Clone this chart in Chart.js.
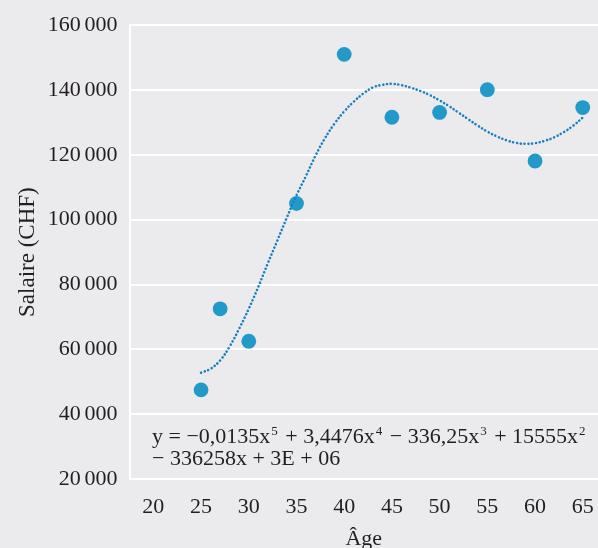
<!DOCTYPE html>
<html>
<head>
<meta charset="utf-8">
<script src="https://cdn.jsdelivr.net/npm/chart.js@4.4.1/dist/chart.umd.min.js"></script>
<style>
  html, body { margin: 0; padding: 0; background: #ebebed; }
  #wrap { width: 598px; height: 548px; }
</style>
</head>
<body>
<div id="wrap"><canvas id="salaryChart" width="598" height="548"></canvas></div>
<script>
// salaire par âge (points mesurés)
const ages = [25, 27, 30, 35, 40, 45, 50, 55, 60, 65];
const salaries = [47500, 72500, 62500, 105000, 151000, 131600, 133100, 140100, 118100, 134600];

// courbe de tendance polynomiale (ordre 5), lue point par point
const trendAges = [25, 26, 27, 28, 29, 30, 31, 32, 33, 34, 35, 36, 37, 38, 39, 40, 41, 42, 43, 44, 45,
  46, 47, 48, 49, 50, 51, 52, 53, 54, 55, 56, 57, 58, 59, 60, 61, 62, 63, 64, 65];
const trendValues = [52800, 54000, 56600, 60900, 66400, 72500, 79300, 86600, 93600, 100700, 107500,
  113500, 119800, 125200, 129700, 133400, 136400, 138900, 140800, 141600, 141900,
  141500, 140700, 139700, 138400, 136800, 135000, 133000, 131000, 129000, 127200,
  125700, 124500, 123700, 123400, 123600, 124300, 125400, 127000, 129000, 131500];

const ageTicks = [20, 25, 30, 35, 40, 45, 50, 55, 60, 65];

const eqLine1 = [['y = −0,0135x', false], ['5', true], [' + 3,4476x', false], ['4', true],
  [' − 336,25x', false], ['3', true], [' + 15555x', false], ['2', true]];
const eqLine2 = [['− 336258x + 3E + 06', false]];

const textColor = '#231f20';
const serif = "'Liberation Serif', 'DejaVu Serif', serif";

function fmtThousands(v) {
  return String(v).replace(/\B(?=(\d{3})+(?!\d))/g, '\u200A\u200A');
}

// équation de la tendance, écrite dans la zone du graphique
const equationPlugin = {
  id: 'equation',
  afterDatasetsDraw(chart) {
    const ctx = chart.ctx;
    const x0 = chart.chartArea.left + 22.5;
    const lines = [[eqLine1, 442.5], [eqLine2, 465]];
    ctx.save();
    ctx.fillStyle = textColor;
    ctx.textBaseline = 'alphabetic';
    ctx.textAlign = 'left';
    lines.forEach(([parts, y]) => {
      let x = x0;
      parts.forEach(([txt, sup]) => {
        ctx.font = (sup ? '13px ' : '22px ') + serif;
        ctx.fillText(txt, sup ? x + 1 : x, sup ? y - 7.5 : y);
        x += ctx.measureText(txt).width + (sup ? 3 : 0);
      });
    });
    ctx.restore();
  }
};

const ctx = document.getElementById('salaryChart').getContext('2d');
new Chart(ctx, {
  type: 'scatter',
  data: {
    datasets: [
      {
        label: 'Tendance',
        type: 'line',
        data: trendAges.map((a, i) => ({ x: a, y: trendValues[i] })),
        borderColor: '#1780be',
        borderWidth: 2.6,
        borderDash: [0.01, 3.8],
        borderCapStyle: 'round',
        pointRadius: 0,
        tension: 0.4,
        fill: false,
        order: 0
      },
      {
        label: 'Salaire',
        data: ages.map((a, i) => ({ x: a, y: salaries[i] })),
        backgroundColor: '#2199c9',
        borderWidth: 0,
        pointRadius: 7.4,
        pointHoverRadius: 7.4,
        order: 1
      }
    ]
  },
  options: {
    responsive: false,
    animation: false,
    layout: { autoPadding: false, padding: { top: 24, left: 0, right: 0, bottom: 0 } },
    plugins: {
      legend: { display: false },
      tooltip: { enabled: false }
    },
    scales: {
      x: {
        type: 'linear',
        min: 17.5,
        max: 66.6,
        afterBuildTicks: scale => { scale.ticks = ageTicks.map(v => ({ value: v })); },
        afterFit: scale => {
          scale.height = 69;
          scale.paddingLeft = 0;
          scale.paddingRight = 0;
        },
        grid: { display: false, drawTicks: false },
        border: { display: true, color: '#ffffff', width: 2 },
        ticks: {
          color: textColor,
          font: { family: serif, size: 22 },
          padding: 15,
          maxRotation: 0
        },
        title: {
          display: true,
          text: 'Âge',
          color: textColor,
          font: { family: serif, size: 22 },
          padding: { top: 0, bottom: -4 }
        }
      },
      y: {
        min: 20000,
        max: 160000,
        afterFit: scale => { scale.width = 129.5; },
        grid: { color: '#ffffff', lineWidth: 2, drawTicks: false },
        border: { display: true, color: '#ffffff', width: 2 },
        ticks: {
          stepSize: 20000,
          color: textColor,
          font: { family: serif, size: 22 },
          padding: 12,
          callback: v => fmtThousands(v)
        },
        title: {
          display: true,
          text: 'Salaire (CHF)',
          color: textColor,
          font: { family: serif, size: 23 },
          padding: { top: 13.7, bottom: 0 }
        }
      }
    }
  },
  plugins: [equationPlugin]
});
</script>
</body>
</html>
